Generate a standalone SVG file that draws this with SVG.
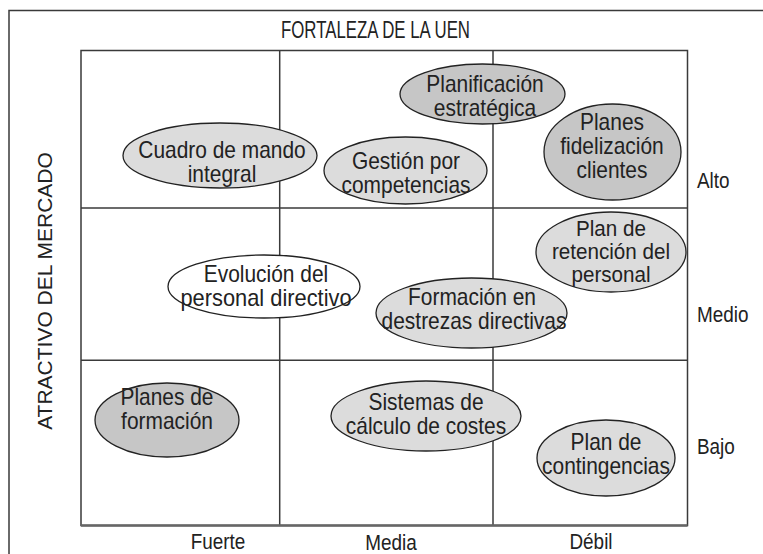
<svg xmlns="http://www.w3.org/2000/svg" width="763" height="554" viewBox="0 0 763 554">
<style>
text{font-family:"Liberation Sans",Arial,sans-serif;font-size:23px;fill:#222;text-anchor:middle}
.lbl{text-anchor:start}
.ax{font-size:22px}
.vt{font-size:21px}
.sm{font-size:21.5px}
.grid{stroke:#3a3a3a;stroke-width:1.5;fill:none}
ellipse{stroke:#222;stroke-width:1.3}
.dk{fill:#c6c6c6}
.lt{fill:#dcdcdc}
.wh{fill:#fff}
</style>
<rect width="763" height="554" fill="#fff"/>
<g id="frame">
<path class="grid" d="M9 554 V10.5 H763"/>
</g>
<g id="grid">
<rect class="grid" x="81" y="50.5" width="606.5" height="475"/>
<line class="grid" x1="279.7" y1="50.5" x2="279.7" y2="525.5"/>
<line class="grid" x1="493" y1="50.5" x2="493" y2="525.5"/>
<line class="grid" x1="81" y1="208" x2="687.5" y2="208"/>
<line class="grid" x1="81" y1="360.3" x2="687.5" y2="360.3"/>
<line x1="81" y1="525.5" x2="687.5" y2="525.5" stroke="#666" stroke-width="2.5"/>
</g>
<g id="connectors"></g>
<g id="axis-labels">
<text x="375.5" y="38" style="font-size:23px" textLength="189" lengthAdjust="spacingAndGlyphs">FORTALEZA DE LA UEN</text>
<text transform="translate(52 291) rotate(-90)" class="vt">ATRACTIVO DEL MERCADO</text>
<text transform="translate(697 188) scale(.86 1)" class="lbl ax">Alto</text>
<text transform="translate(697 322) scale(.86 1)" class="lbl ax">Medio</text>
<text transform="translate(697 454) scale(.86 1)" class="lbl ax">Bajo</text>
<text transform="translate(218 549) scale(.86 1)" class="ax">Fuerte</text>
<text transform="translate(391 550) scale(.86 1)" class="ax">Media</text>
<text transform="translate(591 549) scale(.86 1)" class="ax">Débil</text>
</g>
<g id="n-cuadro">
<ellipse class="lt" cx="220" cy="155.5" rx="97" ry="32.5"/>
<text transform="translate(222 158) scale(.91 1)">Cuadro de mando</text>
<text transform="translate(222 182) scale(.91 1)">integral</text>
</g>
<g id="n-gestion">
<ellipse class="lt" cx="405.5" cy="170.5" rx="81.5" ry="33.5"/>
<text transform="translate(406 169) scale(.91 1)">Gestión por</text>
<text transform="translate(406 193) scale(.91 1)">competencias</text>
</g>
<g id="n-planificacion">
<ellipse class="dk" cx="482.5" cy="94" rx="82.5" ry="30"/>
<text transform="translate(485 92) scale(.91 1)">Planificación</text>
<text transform="translate(485 116) scale(.91 1)">estratégica</text>
</g>
<g id="n-fidelizacion">
<ellipse class="dk" cx="612.5" cy="152" rx="68.5" ry="48"/>
<text transform="translate(612 130) scale(.91 1)">Planes</text>
<text transform="translate(612 154) scale(.91 1)">fidelización</text>
<text transform="translate(612 178) scale(.91 1)">clientes</text>
</g>
<g id="n-evolucion">
<ellipse class="wh" cx="264" cy="286.5" rx="96" ry="31.5"/>
<text transform="translate(266 282) scale(.91 1)">Evolución del</text>
<text transform="translate(266 306) scale(.95 1)">personal directivo</text>
</g>
<g id="n-formacion-destrezas">
<ellipse class="lt" cx="471.5" cy="313" rx="95.5" ry="35"/>
<text transform="translate(472 305) scale(.91 1)">Formación en</text>
<text transform="translate(474 329) scale(.91 1)">destrezas directivas</text>
</g>
<g id="n-retencion">
<ellipse class="lt" cx="611" cy="252" rx="75" ry="40"/>
<text class="sm" transform="translate(611 236) scale(.96 1)">Plan de</text>
<text class="sm" transform="translate(611 259) scale(.96 1)">retención del</text>
<text class="sm" transform="translate(611 282) scale(.96 1)">personal</text>
</g>
<g id="n-planes-formacion">
<ellipse class="dk" cx="167" cy="420" rx="72" ry="37"/>
<text transform="translate(167 405) scale(.91 1)">Planes de</text>
<text transform="translate(167 429) scale(.91 1)">formación</text>
</g>
<g id="n-sistemas">
<ellipse class="lt" cx="426" cy="416" rx="95" ry="35"/>
<text transform="translate(426 410) scale(.91 1)">Sistemas de</text>
<text transform="translate(426 434) scale(.91 1)">cálculo de costes</text>
</g>
<g id="n-contingencias">
<ellipse class="lt" cx="606" cy="458" rx="69" ry="38"/>
<text transform="translate(606 450) scale(.91 1)">Plan de</text>
<text transform="translate(606 474) scale(.91 1)">contingencias</text>
</g>
</svg>
